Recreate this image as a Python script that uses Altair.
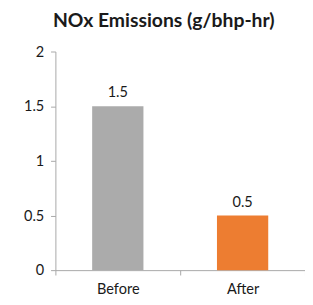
import altair as alt
import pandas as pd

categories = ["Before", "After"]
values = [1.5, 0.5]
colors = ["#ABABAB", "#ED7D31"]
labels = ["1.5", "0.5"]

df = pd.DataFrame({"cat": categories, "val": values, "color": colors, "label": labels})

FONT = "Lato"

x = alt.X("cat:N", sort=categories, title=None,
          scale=alt.Scale(paddingInner=0, paddingOuter=0),
          axis=alt.Axis(labelAngle=0, tickBand="extent", tickSize=5, labelPadding=7,
                        labelFontSize=15, labelFont=FONT, labelColor="#1a1a1a",
                        domainColor="#a6a6a6", tickColor="#a6a6a6", grid=False))
y = alt.Y("val:Q", title=None,
          scale=alt.Scale(domain=[0, 2], nice=False),
          axis=alt.Axis(values=[0, 0.5, 1, 1.5, 2], format="~g", tickSize=5, labelPadding=7,
                        labelFontSize=15, labelFont=FONT, labelColor="#1a1a1a",
                        domainColor="#a6a6a6", tickColor="#a6a6a6", grid=False))

bars = alt.Chart(df).mark_bar(size=53).encode(
    x=x, y=y, color=alt.Color("color:N", scale=None)
)
text = alt.Chart(df).mark_text(dy=-14, fontSize=15, font=FONT, color="#1a1a1a").encode(
    x=alt.X("cat:N", sort=categories), y="val:Q", text="label:N"
)

chart = (bars + text).properties(
    width=258, height=226,
    title=alt.TitleParams("NOx Emissions (g/bhp-hr)", fontSize=20, font=FONT, fontWeight="bold",
                          color="#1a1a1a", anchor="middle", dx=-17, offset=14),
    autosize=alt.AutoSizeParams(type="none"),
    padding={"left": 49, "top": 40, "right": 0, "bottom": 30},
).configure_view(stroke=None)

chart.save("out.html", embed_options={"renderer": "svg", "actions": False})
